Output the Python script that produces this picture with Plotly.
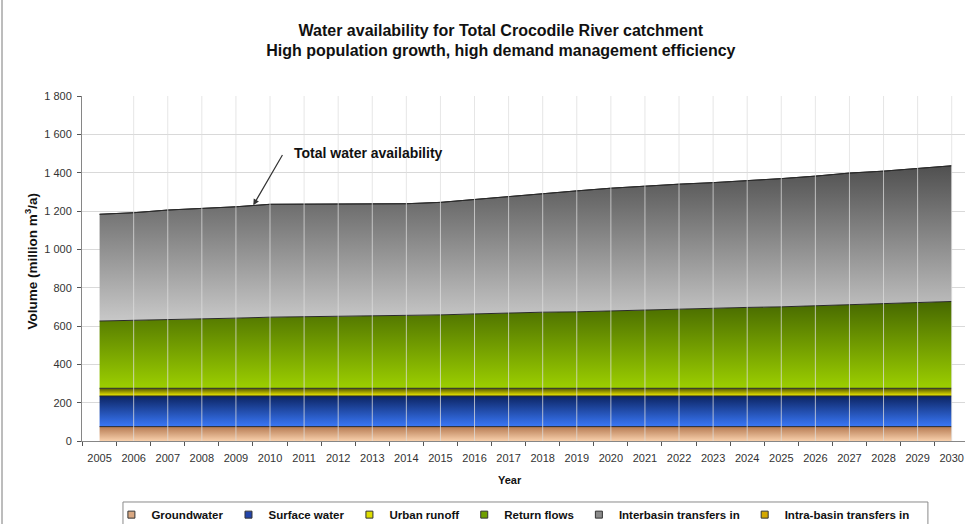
import plotly.graph_objects as go

# Water availability components (million m3/a), stacked bottom to top
years = list(range(2005, 2031))
groundwater = [75, 75, 75, 75, 75, 75, 75, 75, 75, 75, 75, 75, 75,
               75, 75, 75, 75, 75, 75, 75, 75, 75, 75, 75, 75, 75]
surface_water = [160, 160, 160, 160, 160, 160, 160, 160, 160, 160, 160, 160, 160,
                 160, 160, 160, 160, 160, 160, 160, 160, 160, 160, 160, 160, 160]
urban_runoff = [40, 40, 40, 40, 40, 40, 40, 40, 40, 40, 40, 40, 40,
                40, 40, 40, 40, 40, 40, 40, 40, 40, 40, 40, 40, 40]
return_flows = [351, 354, 358, 361, 366, 371, 373, 376, 380, 380, 383, 388, 393,
                397, 399, 404, 409, 413, 416, 422, 425, 430, 437, 441, 446, 453]
interbasin_in = [557, 562, 572, 578, 581, 589, 587, 586, 583, 583, 587, 598, 606,
                 619, 631, 640, 647, 652, 657, 660, 669, 677, 686, 692, 701, 708]
intrabasin_in = [0, 0, 0, 0, 0, 0, 0, 0, 0, 0, 0, 0, 0,
                 0, 0, 0, 0, 0, 0, 0, 0, 0, 0, 0, 0, 0]

y_ticks = [0, 200, 400, 600, 800, 1000, 1200, 1400, 1600, 1800]
y_tick_text = ["0", "200", "400", "600", "800", "1 000", "1 200", "1 400", "1 600", "1 800"]

FONT = "Liberation Sans, Arial, sans-serif"

# name, values, gradient bottom colour, gradient top colour, legend swatch colour
series = [
    ("Groundwater", groundwater, "#f8d0ac", "#b57a52", "#d9a882"),
    ("Surface water", surface_water, "#3a78f8", "#0c2462", "#2244aa"),
    ("Urban runoff", urban_runoff, "#f4f000", "#4e5200", "#dede00"),
    ("Return flows", return_flows, "#9ccf00", "#466800", "#6f9f00"),
    ("Interbasin transfers in", interbasin_in, "#c8c8c8", "#505050", "#8a8a8a"),
    ("Intra-basin transfers in", intrabasin_in, "#f0c000", "#a07800", "#d4a800"),
]

fig = go.Figure()
lower = [0] * len(years)
for name, vals, light, dark, _ in series:
    upper = [a + b for a, b in zip(lower, vals)]
    g_start = min(lower)
    g_stop = max(upper) if max(upper) > g_start else g_start + 1
    fig.add_trace(go.Scatter(
        x=years, y=vals, name=name, mode="lines", stackgroup="one",
        line=dict(color="#2a2a2a", width=1),
        fillgradient=dict(type="vertical", start=g_start, stop=g_stop,
                          colorscale=[[0, light], [1, dark]]),
        showlegend=False,
        hoverinfo="x+y+name",
    ))
    lower = upper

# square legend swatches
for name, _, _, _, swatch in series:
    fig.add_trace(go.Scatter(
        x=[None], y=[None], name=name, mode="markers",
        marker=dict(symbol="square", size=7, color=swatch,
                    line=dict(color="#333", width=1)),
        showlegend=True,
    ))

# vertical gridlines are drawn over the areas
shapes = [
    dict(type="line", xref="x", yref="y", x0=yr, x1=yr, y0=0, y1=1800,
         line=dict(color="rgba(222,222,222,0.75)", width=1), layer="above")
    for yr in years[1:]
]
# outer chart frame (left edge)
shapes.append(dict(type="line", xref="paper", yref="paper",
                   x0=-0.0906, x1=-0.0906, y0=-0.3, y1=1.35,
                   line=dict(color="#7a7a7a", width=1)))
# legend box
shapes.append(dict(type="rect", xref="paper", yref="paper",
                   x0=0.0464, x1=0.958, y0=-0.1768, y1=-0.27,
                   line=dict(color="#8a8a8a", width=1), fillcolor="rgba(0,0,0,0)"))

mid_ticks = [years[0] - 0.5] + [y + 0.5 for y in years[:-1]]

fig.update_layout(
    width=965, height=524,
    margin=dict(l=82, r=0, t=96, b=83, autoexpand=False),
    paper_bgcolor="white", plot_bgcolor="white",
    font=dict(family=FONT, size=11, color="#222"),
    title=dict(
        text="<b>Water availability for Total Crocodile River catchment<br>"
             "High population growth, high demand management efficiency</b>",
        xref="container", x=0.519, xanchor="center",
        yref="container", y=0.932, yanchor="top",
        font=dict(family=FONT, size=16, color="#111"),
    ),
    xaxis=dict(
        range=[2004.484, 2030.39],
        tickvals=years, ticktext=[str(y) for y in years],
        ticks="", showgrid=False, zeroline=False,
        showline=True, linecolor="#868686", linewidth=1,
        minor=dict(tickvals=mid_ticks, ticks="outside", ticklen=4,
                   tickcolor="#555", showgrid=False),
        ticklabelstandoff=7,
        tickfont=dict(size=11, color="#333"),
    ),
    yaxis=dict(
        range=[0, 1800],
        tickvals=y_ticks, ticktext=y_tick_text,
        ticks="outside", ticklen=4, tickcolor="#555",
        showgrid=True, gridcolor="#d9d9d9", gridwidth=1, zeroline=False,
        showline=True, linecolor="#868686", linewidth=1,
        ticklabelstandoff=3,
        tickfont=dict(size=11, color="#333"),
    ),
    legend=dict(
        orientation="h", traceorder="normal",
        x=0.0333, xanchor="left", y=-0.1714, yanchor="top",
        bgcolor="rgba(0,0,0,0)", borderwidth=0,
        font=dict(size=11.5, color="#111", family=FONT, weight="bold"),
        itemclick=False, itemdoubleclick=False,
    ),
    shapes=shapes,
    annotations=[
        dict(x=2009.51, y=1230, xref="x", yref="y", text="",
             showarrow=True, axref="x", ayref="y", ax=2010.39, ay=1500,
             arrowhead=2, arrowsize=1, arrowwidth=1.2, arrowcolor="#333"),
        dict(x=2010.64, y=1503, xref="x", yref="y", xanchor="left",
             yanchor="middle", text="<b>Total water availability</b>",
             showarrow=False, font=dict(size=14, color="#111")),
        dict(x=0.4847, y=-0.113, xref="paper", yref="paper",
             xanchor="center", yanchor="middle", text="<b>Year</b>",
             showarrow=False, font=dict(size=11, color="#111")),
        dict(x=-0.058, y=0.52, xref="paper", yref="paper",
             xanchor="center", yanchor="middle", textangle=-90,
             text="<b>Volume (million m<sup>3</sup>/a)</b>",
             showarrow=False, font=dict(size=13.5, color="#111")),
    ],
    showlegend=True,
)

fig.write_html("out.html")
